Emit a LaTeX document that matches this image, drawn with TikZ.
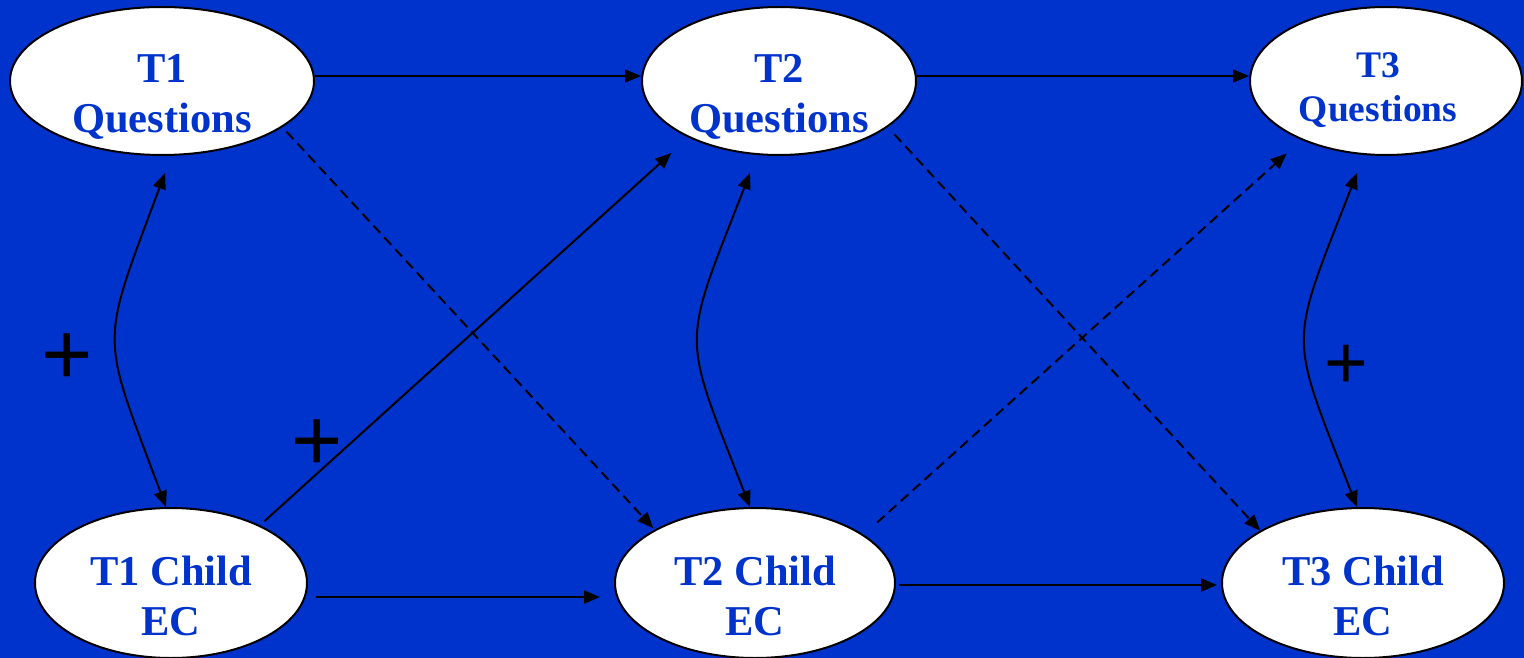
\documentclass[tikz,border=0pt]{standalone}
\usepackage{fontspec}
\setmainfont{Liberation Serif}
\newfontfamily\plusfont{Liberation Sans}
\usetikzlibrary{arrows.meta,shapes.geometric}
\definecolor{bgblue}{RGB}{0,51,204}
\definecolor{txtblue}{RGB}{0,51,204}
\begin{document}
\begin{tikzpicture}[x=1pt,y=-1pt,
  oval/.style={shape=ellipse, draw=black, line width=2pt, fill=white, inner sep=0pt},
  lbl/.style={text=txtblue, font=\fontsize{42.5}{50}\selectfont\bfseries, align=center, inner sep=0pt},
  lblsmall/.style={text=txtblue, font=\fontsize{37.5}{44}\selectfont\bfseries, align=center, inner sep=0pt},
  conn/.style={line width=2pt, -{Triangle[length=16pt,width=13pt]}},
  dconn/.style={conn, dash pattern=on 10pt off 6pt},
  bidir/.style={line width=2pt, {Triangle[length=16pt,width=13pt]}-{Triangle[length=16pt,width=13pt]}},
  plussign/.style={font=\plusfont\fontsize{88}{88}\selectfont, inner sep=0pt, text=black},
  plussmall/.style={font=\plusfont\fontsize{75}{75}\selectfont, inner sep=0pt, text=black}]
\useasboundingbox (0,0) rectangle (1524,658);
\fill[bgblue] (0,0) rectangle (1524,658);

% ellipses
\node[oval, minimum width=304pt, minimum height=148pt] (t1q) at (162,81) {};
\node[oval, minimum width=274pt, minimum height=148pt] (t2q) at (779,81) {};
\node[oval, minimum width=272pt, minimum height=148pt] (t3q) at (1386,81) {};
\node[oval, minimum width=272pt, minimum height=150pt] (t1c) at (171,583) {};
\node[oval, minimum width=280pt, minimum height=150pt] (t2c) at (755,583) {};
\node[oval, minimum width=282pt, minimum height=150pt] (t3c) at (1363,583) {};

% labels
\node[lbl] (t1qlbl) at ([yshift=-16pt]t1q.center) {T1\\Questions};
\node[lbl] (t2qlbl) at ([yshift=-16pt]t2q.center) {T2\\Questions};
\node[lblsmall] (t3qlbl) at ([xshift=-8pt,yshift=-9pt]t3q.center) {T3\\Questions};
\node[lbl] (t1clbl) at ([yshift=-13pt]t1c.center) {T1 Child\\EC};
\node[lbl] (t2clbl) at ([yshift=-13pt]t2c.center) {T2 Child\\EC};
\node[lbl] (t3clbl) at ([yshift=-13pt]t3c.center) {T3 Child\\EC};

% horizontal connectors
\draw[conn] ([yshift=5pt]t1q.east) -- ([yshift=5pt]t2q.west);
\draw[conn] ([yshift=5pt]t2q.east) -- ([yshift=5pt]t3q.west);
\draw[conn, shorten <=8pt, shorten >=14pt] ([yshift=-14pt]t1c.east) -- ([yshift=-14pt]t2c.west);
\draw[conn, shorten <=3pt, shorten >=4pt] ([yshift=-2pt]t2c.east) -- ([yshift=-2pt]t3c.west);

% diagonal connectors
\draw[conn, shorten <=6pt, shorten >=23pt] (t1c.33.5) -- (t2q.212.8);
\draw[dconn, shorten <=6pt, shorten >=2pt] (t1q.-21.7) -- (t2c.152.5);
\draw[dconn, shorten <=10pt] (t2q.-23.7) -- (t3c.153);
\draw[dconn, shorten <=18pt, shorten >=20pt] (t2c.24.5) -- (t3q.215.6);

% curved double-headed connectors
\draw[bidir] ([xshift=3pt,yshift=-17pt]t1q.south) .. controls +(-66,177) and +(-66,-177) .. ([xshift=-5pt]t1c.north);
\draw[bidir] ([xshift=-29pt,yshift=-17pt]t2q.south) .. controls +(-69,177) and +(-69,-177) .. ([xshift=-5pt]t2c.north);
\draw[bidir] ([xshift=-29pt,yshift=-17pt]t3q.south) .. controls +(-69,177) and +(-69,-177) .. ([xshift=-6pt]t3c.north);

% plus signs
\node[plussign] (p1) at (67,359) {+};
\node[plussign] (p2) at (317,445) {+};
\node[plussmall] (p3) at (1346,367) {+};
\end{tikzpicture}
\end{document}
